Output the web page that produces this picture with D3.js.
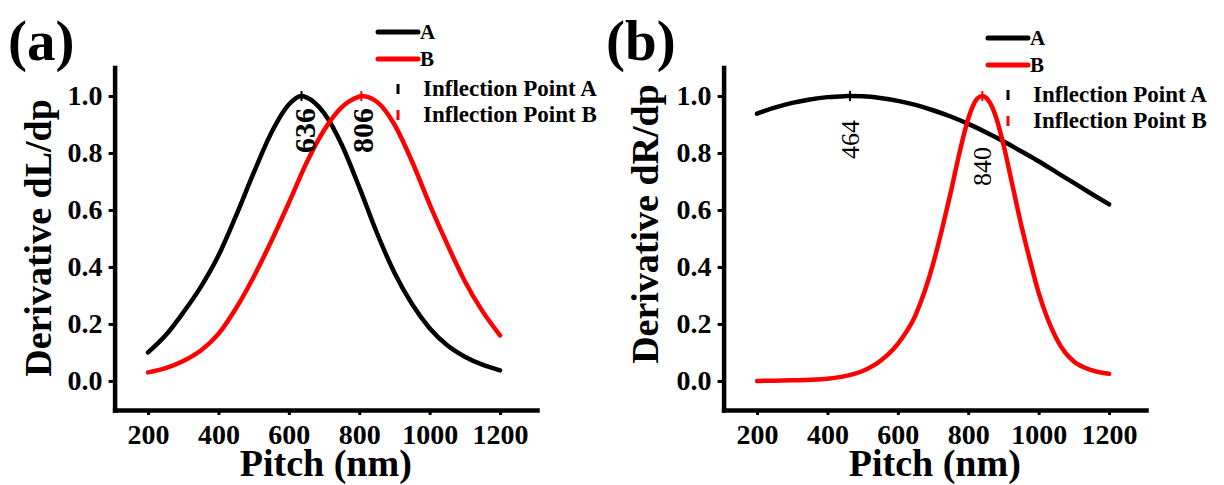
<!DOCTYPE html>
<html>
<head>
<meta charset="utf-8">
<script src="https://cdn.jsdelivr.net/npm/d3@7"></script>
<style>
  body { margin: 0; background: #fff; }
  svg { display: block; font-family: "Liberation Serif", "Times New Roman", serif; }
</style>
</head>
<body>
<svg id="chart" width="1224" height="485"></svg>
<script>
// (a) dL/dp
var pitchLA = [200, 250, 300, 350, 400, 450, 500, 550, 600, 636, 650, 700, 750, 800, 850, 900, 950, 1000, 1050, 1100, 1150, 1200];
var dLdpA   = [0.10, 0.16, 0.24, 0.33, 0.44, 0.58, 0.73, 0.87, 0.97, 1.00, 0.995, 0.94, 0.83, 0.68, 0.52, 0.38, 0.27, 0.185, 0.125, 0.085, 0.057, 0.037];
var pitchLB = [200, 250, 300, 350, 400, 450, 500, 550, 600, 650, 700, 750, 800, 806, 850, 900, 950, 1000, 1050, 1100, 1150, 1200];
var dLdpB   = [0.03, 0.045, 0.07, 0.107, 0.165, 0.255, 0.365, 0.49, 0.625, 0.765, 0.88, 0.96, 0.998, 1.00, 0.98, 0.90, 0.77, 0.62, 0.48, 0.35, 0.245, 0.16];

// (b) dR/dp
var pitchRA = [200, 250, 300, 350, 400, 450, 464, 500, 550, 600, 650, 700, 750, 800, 850, 900, 950, 1000, 1050, 1100, 1150, 1200];
var dRdpA   = [0.938, 0.959, 0.976, 0.988, 0.996, 0.9995, 1.00, 0.999, 0.993, 0.983, 0.969, 0.950, 0.928, 0.902, 0.873, 0.841, 0.806, 0.771, 0.733, 0.695, 0.657, 0.62];
var pitchRB = [200, 250, 300, 350, 400, 450, 500, 550, 600, 650, 675, 700, 725, 750, 775, 800, 825, 840, 850, 875, 900, 925, 950, 975, 1000, 1025, 1050, 1075, 1100, 1150, 1200];
var dRdpB   = [0.000, 0.001, 0.002, 0.004, 0.008, 0.017, 0.035, 0.07, 0.13, 0.23, 0.31, 0.41, 0.53, 0.66, 0.80, 0.92, 0.99, 1.00, 0.995, 0.94, 0.83, 0.69, 0.55, 0.425, 0.31, 0.22, 0.15, 0.10, 0.068, 0.038, 0.025];

var inflectionL = [636, 806];
var inflectionR = [464, 840];

var xTicks = [200, 400, 600, 800, 1000, 1200];
var yTicks = [0, 0.2, 0.4, 0.6, 0.8, 1.0];
var seriesNames = ["A", "B"];
var legendInflection = ["Inflection Point A", "Inflection Point B"];

var colors = ["#000000", "#ff0000"];
var svg = d3.select("#chart");

function drawPanel(o) {
  var g = svg.append("g");

  var x = d3.scaleLinear().domain([105, 1305]).range([o.left, o.left + 422.4]);
  var y = d3.scaleLinear().domain([-0.102, 1.1]).range([410, 67.5]);

  var xAxis = d3.axisBottom(x).tickValues(xTicks).tickFormat(d3.format("d")).tickSize(5).tickSizeOuter(0).tickPadding(9);
  var yAxis = d3.axisLeft(y).tickValues(yTicks).tickFormat(d3.format(".1f")).tickSize(6).tickSizeOuter(0).tickPadding(6);

  var gx = g.append("g").attr("transform", "translate(0,410)").call(xAxis);
  var gy = g.append("g").attr("transform", "translate(" + o.left + ",0)").call(yAxis);

  [gx, gy].forEach(function (a) {
    a.select(".domain").attr("stroke", "#000").attr("stroke-width", 4.5).attr("stroke-linecap", "square");
    a.selectAll(".tick line").attr("stroke", "#000").attr("stroke-width", 3);
    a.selectAll(".tick text")
      .attr("fill", "#000")
      .style("font-family", '"Liberation Serif", "Times New Roman", serif')
      .style("font-size", "28px")
      .style("font-weight", "bold");
  });

  // curves
  var line = d3.line()
    .x(function (d) { return x(d[0]); })
    .y(function (d) { return y(d[1]); })
    .curve(d3.curveMonotoneX);

  o.series.forEach(function (s, i) {
    var pts = d3.zip(s.pitch, s.vals);
    g.append("path")
      .datum(pts)
      .attr("d", line)
      .attr("fill", "none")
      .attr("stroke", colors[i])
      .attr("stroke-width", 4.5)
      .attr("stroke-linecap", "round")
      .attr("stroke-linejoin", "round");
  });

  // inflection markers + rotated labels
  o.peaks.forEach(function (p, i) {
    var px = x(p), py = y(1.0);
    g.append("line")
      .attr("x1", px).attr("x2", px)
      .attr("y1", py - 5).attr("y2", py + 5)
      .attr("stroke", colors[i])
      .attr("stroke-width", 2);
    g.append("text")
      .attr("transform", "translate(" + (px + o.peakDx[i]) + "," + (py + o.peakDy[i]) + ") rotate(-90)")
      .attr("text-anchor", "end")
      .style("font-size", o.peakFont + "px")
      .style("font-weight", o.peakWeight)
      .attr("fill", "#000")
      .text(p);
  });

  // axis titles
  g.append("text")
    .attr("transform", "translate(" + o.yLabelX + "," + o.yLabelY + ") rotate(-90)")
    .attr("text-anchor", "middle")
    .style("font-size", "38px")
    .style("font-weight", "bold")
    .text(o.yLabel);

  g.append("text")
    .attr("x", x(o.xLabelAt))
    .attr("y", 476)
    .attr("text-anchor", "middle")
    .style("font-size", "38px")
    .style("font-weight", "bold")
    .text("Pitch (nm)");

  // panel tag
  g.append("text")
    .attr("x", o.tagX)
    .attr("y", 60)
    .style("font-size", "57px")
    .style("font-weight", "bold")
    .text(o.tag);

  // legend
  var lg = g.append("g").attr("transform", "translate(" + o.legX + "," + o.legY + ")");
  seriesNames.forEach(function (n, i) {
    lg.append("line")
      .attr("x1", 0).attr("x2", 40)
      .attr("y1", i * 27).attr("y2", i * 27)
      .attr("stroke", colors[i])
      .attr("stroke-width", 5)
      .attr("stroke-linecap", "round");
    lg.append("text")
      .attr("x", 42).attr("y", i * 27 + 7)
      .style("font-size", "21px")
      .style("font-weight", "bold")
      .text(n);
  });
  legendInflection.forEach(function (n, i) {
    var yy = 57 + i * 26;
    lg.append("line")
      .attr("x1", 20).attr("x2", 20)
      .attr("y1", yy - 5).attr("y2", yy + 5)
      .attr("stroke", colors[i])
      .attr("stroke-width", 3);
    lg.append("text")
      .attr("x", 45).attr("y", yy + 7)
      .style("font-size", "23px")
      .style("font-weight", "bold")
      .text(n);
  });
}

drawPanel({
  left: 114.6,
  series: [{ pitch: pitchLA, vals: dLdpA }, { pitch: pitchLB, vals: dLdpB }],
  peaks: inflectionL,
  peakDx: [13, 12],
  peakDy: [12, 12],
  peakFont: 30,
  peakWeight: "bold",
  yLabel: "Derivative dL/dp",
  yLabelX: 51, yLabelY: 238,
  xLabelAt: 705,
  tag: "(a)", tagX: 8,
  legX: 378, legY: 32
});

drawPanel({
  left: 723.6,
  series: [{ pitch: pitchRA, vals: dRdpA }, { pitch: pitchRB, vals: dRdpB }],
  peaks: inflectionR,
  peakDx: [9, 9],
  peakDy: [24, 51],
  peakFont: 26,
  peakWeight: "normal",
  yLabel: "Derivative dR/dp",
  yLabelX: 658, yLabelY: 224,
  xLabelAt: 705,
  tag: "(b)", tagX: 606,
  legX: 988, legY: 38
});
</script>
</body>
</html>
